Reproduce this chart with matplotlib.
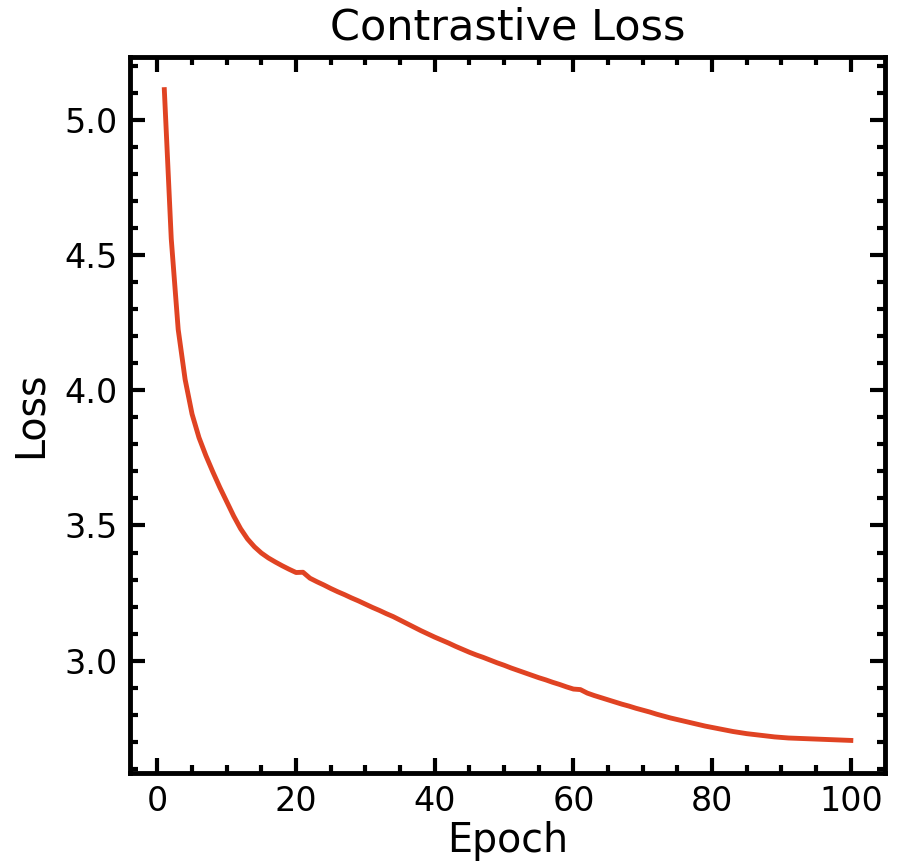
import matplotlib
matplotlib.use("Agg")
import matplotlib.pyplot as plt
from matplotlib.ticker import MultipleLocator

epochs = list(range(1, 101))
loss = [
    5.112, 4.560, 4.225, 4.040, 3.912, 3.825, 3.758, 3.698, 3.641, 3.588,
    3.535, 3.488, 3.450, 3.421, 3.398, 3.380, 3.365, 3.351, 3.338, 3.326,
    3.327, 3.305, 3.292, 3.280, 3.267, 3.255, 3.244, 3.232, 3.221, 3.209,
    3.197, 3.186, 3.174, 3.163, 3.150, 3.137, 3.124, 3.111, 3.099, 3.087,
    3.076, 3.065, 3.053, 3.042, 3.031, 3.021, 3.012, 3.002, 2.992, 2.983,
    2.973, 2.964, 2.955, 2.946, 2.937, 2.929, 2.920, 2.912, 2.903, 2.895,
    2.893, 2.880, 2.871, 2.863, 2.855, 2.847, 2.839, 2.832, 2.824, 2.817,
    2.810, 2.802, 2.795, 2.788, 2.782, 2.776, 2.770, 2.764, 2.758, 2.753,
    2.748, 2.743, 2.738, 2.734, 2.730, 2.727, 2.724, 2.721, 2.718, 2.716,
    2.714, 2.713, 2.712, 2.711, 2.710, 2.709, 2.708, 2.707, 2.706, 2.705,
]

fig = plt.figure(figsize=(8.99, 8.65), dpi=100)
ax = fig.add_axes([0.1446, 0.1064, 0.84, 0.8276])

ax.plot(epochs, loss, color='#E04323', linewidth=3.5)

ax.set_title("Contrastive Loss", fontsize=31, pad=13)
ax.set_xlabel("Epoch", fontsize=28.5, labelpad=2)
ax.set_ylabel("Loss", fontsize=28.5, labelpad=10)

ax.xaxis.set_major_locator(MultipleLocator(20))
ax.xaxis.set_minor_locator(MultipleLocator(5))
ax.yaxis.set_major_locator(MultipleLocator(0.5))
ax.yaxis.set_minor_locator(MultipleLocator(0.1))

ax.tick_params(which='both', direction='in', top=True, right=True,
               labelsize=24, width=3)
ax.tick_params(which='major', length=11, pad=9)
ax.tick_params(which='minor', length=6)
for s in ax.spines.values():
    s.set_linewidth(3.5)

fig.savefig("out.png", dpi=100)
